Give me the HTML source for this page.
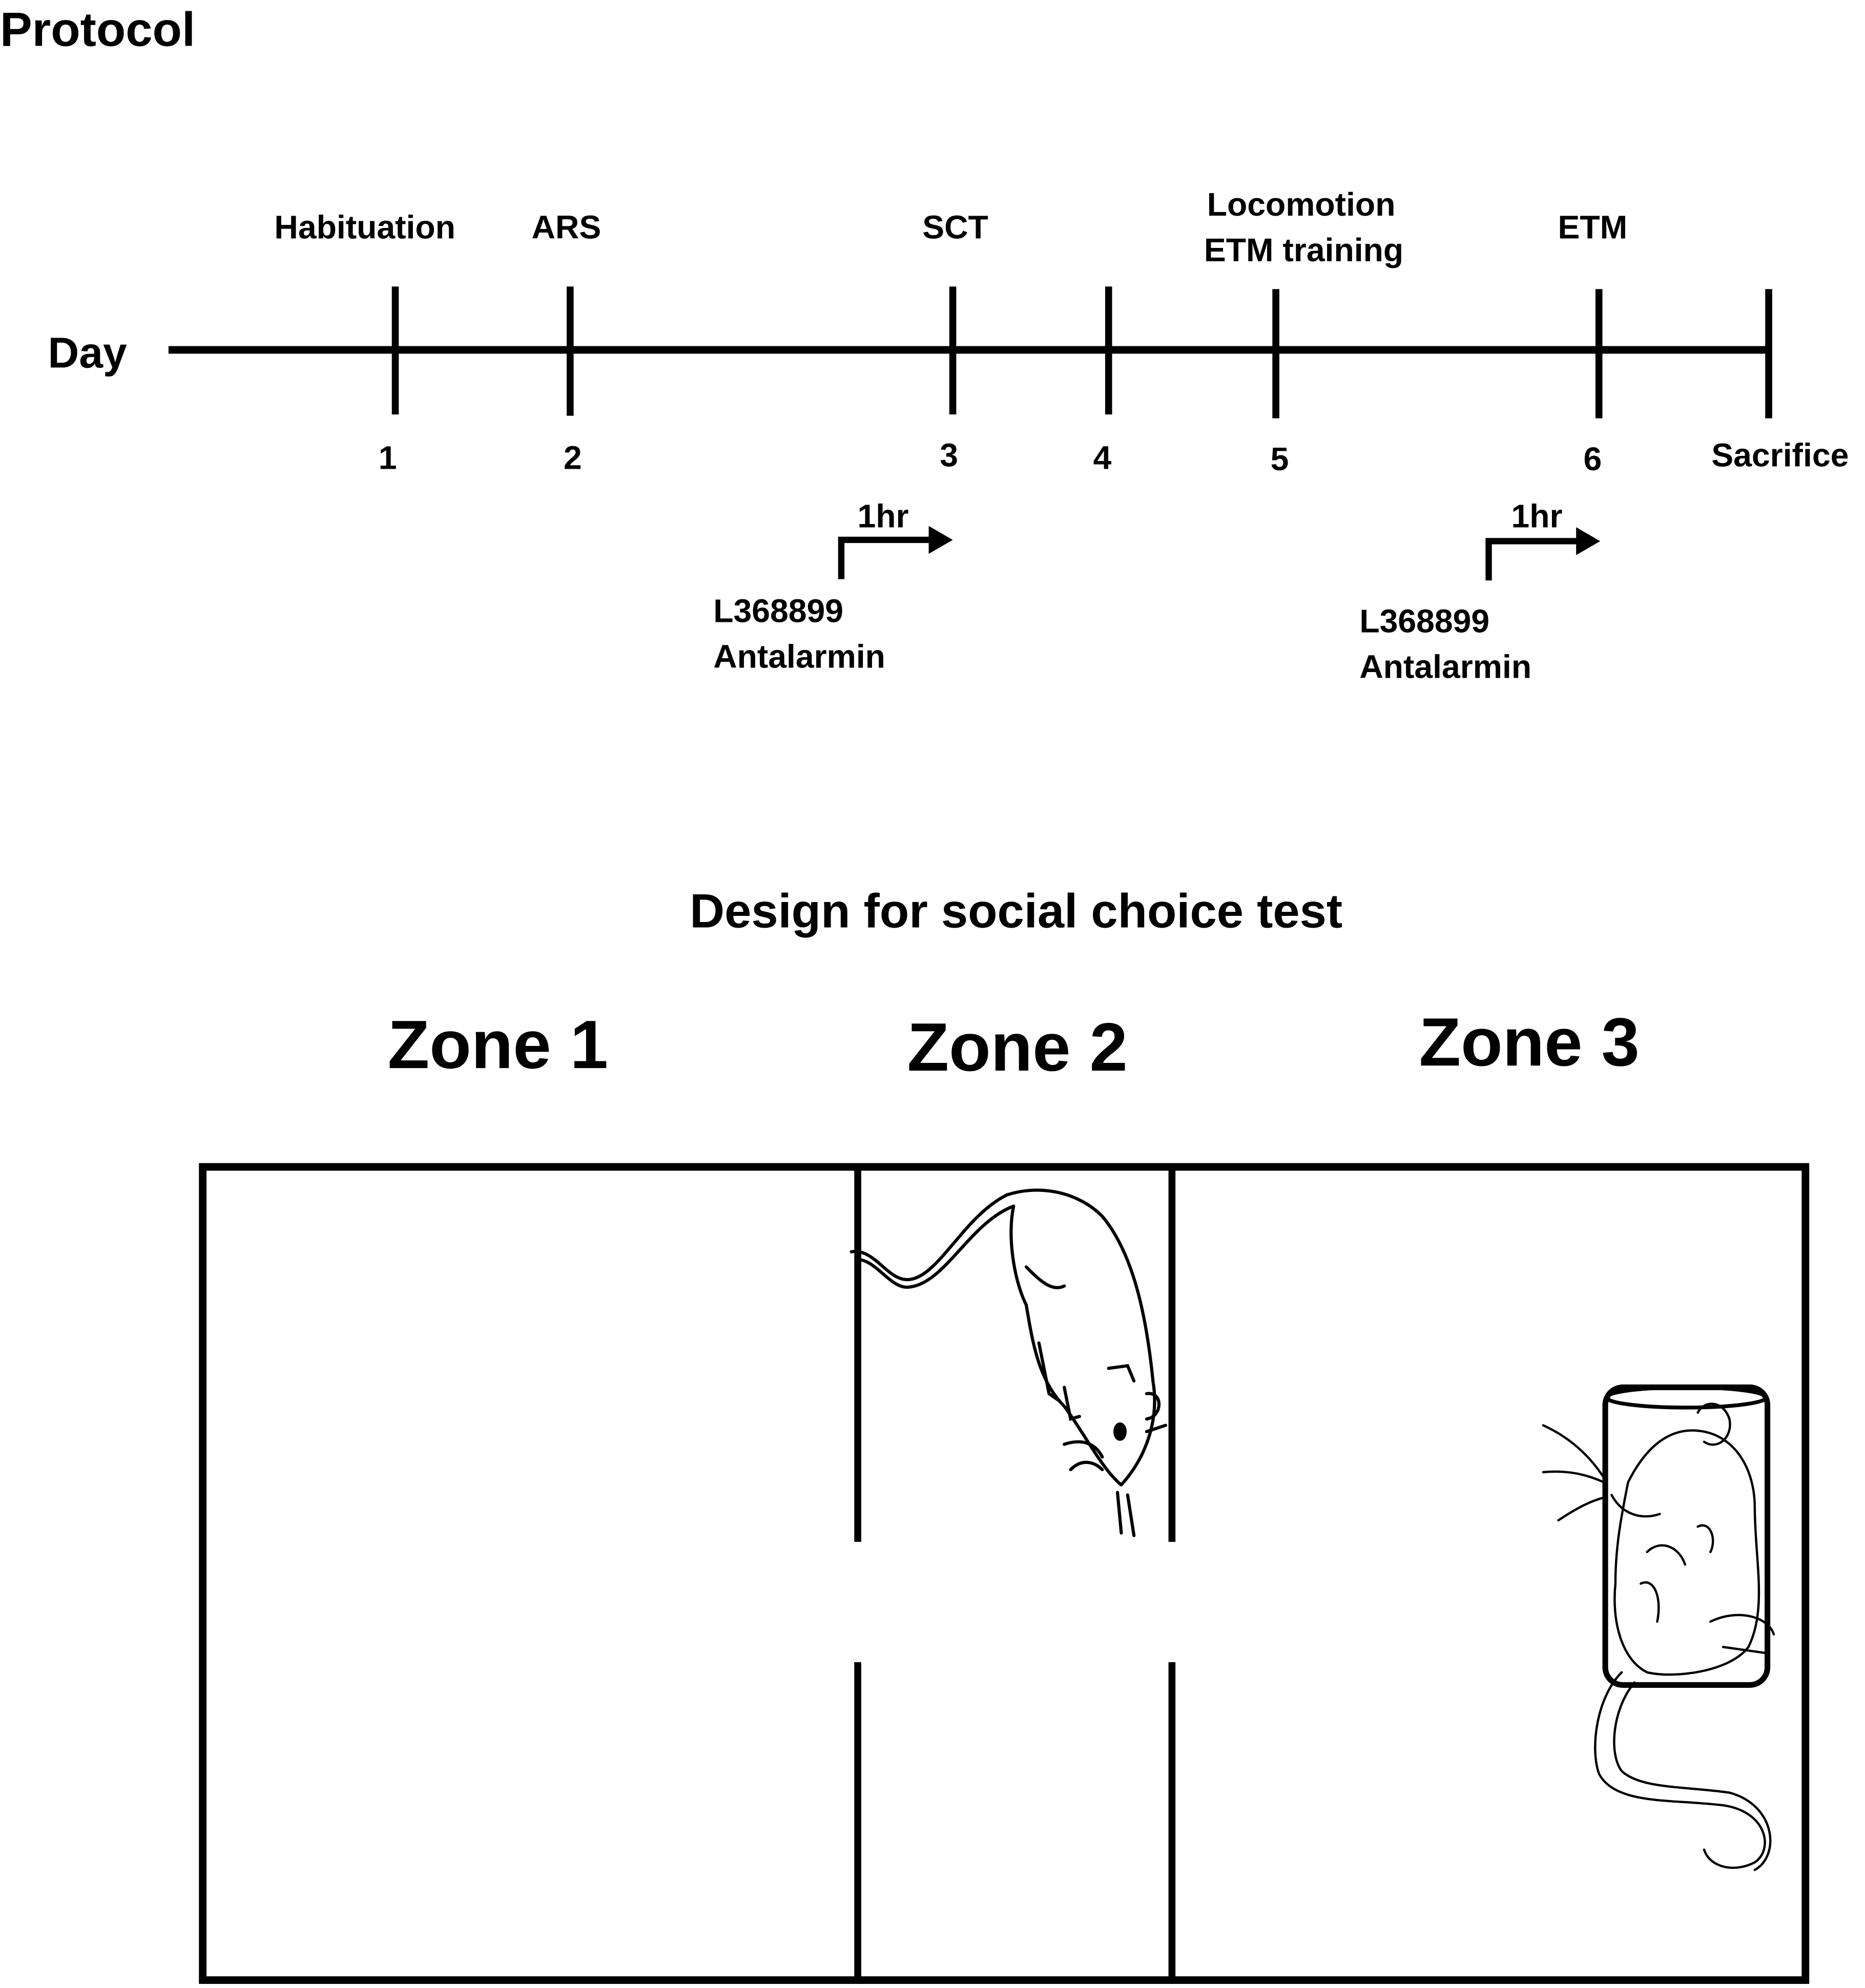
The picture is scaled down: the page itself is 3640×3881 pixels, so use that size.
<!DOCTYPE html>
<html><head><meta charset="utf-8">
<style>
html,body{margin:0;padding:0;background:#fff;}
svg{display:block;}
text{font-family:"Liberation Sans",sans-serif;font-weight:bold;fill:#000;}
</style></head>
<body>
<svg width="3640" height="3881" viewBox="0 0 1472 1569" xmlns="http://www.w3.org/2000/svg">
<text x="0" y="36" font-size="38">Protocol</text>
<!-- timeline -->
<line x1="133" y1="276" x2="1396" y2="276" stroke="#000" stroke-width="6"/>
<g stroke="#000" stroke-width="5.5">
<line x1="312" y1="226" x2="312" y2="327"/>
<line x1="450" y1="226" x2="450" y2="328"/>
<line x1="752" y1="226" x2="752" y2="327"/>
<line x1="875" y1="226" x2="875" y2="327"/>
<line x1="1007" y1="228" x2="1007" y2="330"/>
<line x1="1262" y1="228" x2="1262" y2="330"/>
<line x1="1396" y1="228" x2="1396" y2="330"/>
</g>
<text x="69" y="290" font-size="34" text-anchor="middle">Day</text>
<g font-size="26" text-anchor="middle">
<text x="288" y="188">Habituation</text>
<text x="447" y="188">ARS</text>
<text x="754" y="188">SCT</text>
<text x="1027" y="170">Locomotion</text>
<text x="1029" y="206">ETM training</text>
<text x="1257" y="188">ETM</text>
<text x="306" y="370">1</text>
<text x="452" y="370">2</text>
<text x="749" y="368">3</text>
<text x="870" y="370">4</text>
<text x="1010" y="371">5</text>
<text x="1257" y="371">6</text>
<text x="1405" y="368">Sacrifice</text>
<text x="697" y="416">1hr</text>
<text x="1213" y="416">1hr</text>
</g>
<g font-size="26">
<text x="563" y="491">L368899</text>
<text x="563" y="527">Antalarmin</text>
<text x="1073" y="499">L368899</text>
<text x="1073" y="535">Antalarmin</text>
</g>
<!-- arrows -->
<g stroke="#000" stroke-width="5" fill="none">
<polyline points="664,457 664,426 735,426"/>
<polyline points="1175,458 1175,427 1246,427"/>
</g>
<polygon points="733,415 752,426 733,437" fill="#000"/>
<polygon points="1244,416 1263,427 1244,438" fill="#000"/>

<text x="802" y="732" font-size="38" text-anchor="middle">Design for social choice test</text>
<g font-size="54" text-anchor="middle" style="font-weight:900">
<text x="393" y="843">Zone 1</text>
<text x="803" y="845">Zone 2</text>
<text x="1207" y="841">Zone 3</text>
</g>
<!-- box -->
<rect x="160" y="921" width="1265" height="642" fill="none" stroke="#000" stroke-width="6"/>
<g stroke="#000" stroke-width="5.5">
<line x1="677" y1="921" x2="677" y2="1217"/>
<line x1="677" y1="1312" x2="677" y2="1563"/>
<line x1="925" y1="921" x2="925" y2="1217"/>
<line x1="925" y1="1312" x2="925" y2="1563"/>
</g>
<!-- mouse zone 2 (rough) -->
<g fill="none" stroke="#000" stroke-width="2.5" stroke-linecap="round">
<path d="M672,988 C690,985 700,1010 716,1010 C740,1010 760,960 795,943"/>
<path d="M677,994 C692,995 702,1016 716,1016 C745,1015 765,965 800,952"/>
<path d="M795,943 C820,935 850,940 870,960 C895,990 905,1040 910,1090 C915,1120 905,1150 885,1172"/>
<path d="M800,952 C795,975 800,1010 810,1030 C815,1060 820,1090 840,1110 C855,1130 870,1160 885,1172"/>
<path d="M810,1000 C820,1010 830,1020 840,1015"/>
<ellipse cx="884" cy="1130" rx="4" ry="6" fill="#000"/>
<path d="M905,1100 C918,1098 918,1118 905,1120"/>
<path d="M875,1080 L890,1078 L895,1090"/>
<path d="M840,1140 C855,1135 865,1140 870,1150 M845,1160 C855,1150 865,1155 870,1160 M890,1180 L895,1212 M882,1178 L885,1210 M905,1130 L920,1125"/>
<path d="M820,1060 L828,1100 L835,1105 M840,1095 L845,1120 L852,1118"/>
</g>
<!-- mouse zone 3 (rough) -->
<g fill="none" stroke="#000" stroke-linecap="round">
<rect x="1267" y="1095" width="128" height="235" rx="14" stroke-width="4.5"/>
<ellipse cx="1331" cy="1103" rx="63" ry="8" stroke-width="3"/>
<g stroke-width="1.8">
<path d="M1285,1170 C1300,1140 1320,1125 1345,1130 C1370,1135 1385,1160 1385,1190 C1385,1230 1395,1270 1380,1300 C1365,1320 1320,1325 1300,1320 C1280,1310 1272,1280 1275,1250 C1275,1220 1280,1195 1285,1170"/>
<path d="M1272,1180 C1280,1195 1295,1200 1310,1195"/>
<path d="M1340,1115 C1345,1105 1360,1105 1365,1120 C1368,1135 1355,1145 1345,1138"/>
<path d="M1300,1225 C1310,1215 1325,1220 1330,1235 M1340,1205 C1350,1200 1355,1215 1350,1225"/>
<path d="M1295,1250 C1305,1245 1312,1260 1308,1280 M1350,1280 C1370,1270 1395,1275 1400,1290 M1360,1300 L1395,1305"/>
<path d="M1218,1125 C1240,1135 1255,1150 1265,1165 M1218,1162 C1240,1160 1255,1165 1266,1170 M1230,1200 C1245,1190 1255,1185 1266,1182"/>
<path d="M1280,1320 C1260,1340 1255,1380 1262,1400 C1275,1425 1320,1420 1360,1425 C1395,1430 1400,1460 1385,1470 C1370,1478 1350,1475 1345,1460"/>
<path d="M1290,1328 C1272,1350 1270,1385 1280,1398 C1295,1412 1330,1410 1365,1415 C1402,1425 1405,1465 1385,1476"/>
</g>
</g>
</svg>
</body></html>
